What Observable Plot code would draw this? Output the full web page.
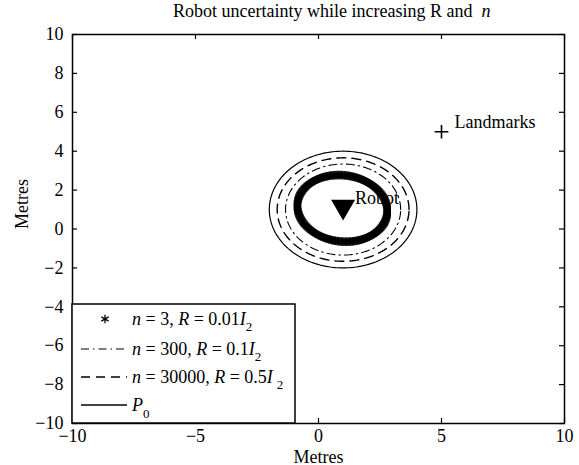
<!DOCTYPE html>
<html><head><meta charset="utf-8">
<script src="https://cdn.jsdelivr.net/npm/d3@7"></script>
<script src="https://cdn.jsdelivr.net/npm/@observablehq/plot@0.6"></script>
<style>
body{margin:0;background:#fff;}
#chart svg{display:block;}
</style></head><body><div id="chart"></div>
<script>
// ---- data ----
const titleText = "Robot uncertainty while increasing R and ";
const titleItalic = "n";
const xLabel = "Metres";
const yLabel = "Metres";
const xTicks = [-10, -5, 0, 5, 10];
const yTicks = [-10, -8, -6, -4, -2, 0, 2, 4, 6, 8, 10];
const robotX = [1], robotY = [1], robotLabel = ["Robot"];
const landmarkX = [5], landmarkY = [5], landmarkLabel = ["Landmarks"];
// uncertainty ellipses (centre, semi-axes, tilt in degrees)
const ellipseSeries = ["n3", "n300", "n30000", "P0"];
const ellipseCx = [0.97, 1, 1, 1];
const ellipseCy = [1.06, 1, 1, 1];
const ellipseRx = [1.86, 2.34, 2.68, 3.0];
const ellipseRy = [1.68, 2.34, 2.66, 3.0];
const ellipseTilt = [-25, 0, 0, 0];
// legend texts
const legendN = ["3", "300", "30000"];
const legendR = ["0.01", "0.1", "0.5"];

// ---- build ellipse outlines ----
const ellipsePts = [];
ellipseSeries.forEach((s, i) => {
  const t = ellipseTilt[i] * Math.PI / 180;
  const step = s === "n3" ? 1 : 2;
  for (let a = 0; a <= 360; a += step) {
    const u = a * Math.PI / 180;
    const ex = ellipseRx[i] * Math.cos(u), ey = ellipseRy[i] * Math.sin(u);
    ellipsePts.push({series: s, x: ellipseCx[i] + ex * Math.cos(t) - ey * Math.sin(t), y: ellipseCy[i] + ex * Math.sin(t) + ey * Math.cos(t)});
  }
});
const ser = s => ellipsePts.filter(d => d.series === s);

const W = 579, H = 465, mL = 72, mR = 15, mT = 34, mB = 42;
const innerW = W - mL - mR, innerH = H - mT - mB;
const FONT = "'Liberation Serif', 'Times New Roman', serif";

function overlay(index, scales, values, dims) {
  const g = d3.create("svg:g").attr("font-family", FONT).attr("fill", "black").attr("text-anchor", "start");
  // title
  const tt = g.append("text").attr("x", 173).attr("y", 17).attr("font-size", 18);
  tt.append("tspan").text(titleText + "\u00a0");
  tt.append("tspan").attr("font-style", "italic").text(titleItalic);
  // legend box
  const bx = dims.marginLeft, by = dims.height - dims.marginBottom - 119;
  g.append("rect").attr("x", bx).attr("y", by).attr("width", 223).attr("height", 119)
    .attr("fill", "white").attr("stroke", "black").attr("stroke-width", 1.5);
  const rows = [15, 45, 73, 101];
  const lx1 = bx + 9, lx2 = bx + 55, tx = bx + 60;
  // row 1: asterisk marker
  g.append("path").attr("d", d3.symbol(d3.symbolAsterisk, Math.PI * 16)())
    .attr("transform", `translate(${bx + 33},${by + rows[0]})`).attr("stroke", "black").attr("stroke-width", 1.3).attr("fill", "none");
  g.append("line").attr("x1", lx1).attr("x2", lx2).attr("y1", by + rows[1]).attr("y2", by + rows[1])
    .attr("stroke", "black").attr("stroke-width", 1.1).attr("stroke-dasharray", "8,4,1.5,4");
  g.append("line").attr("x1", lx1).attr("x2", lx2).attr("y1", by + rows[2]).attr("y2", by + rows[2])
    .attr("stroke", "black").attr("stroke-width", 1.4).attr("stroke-dasharray", "9,6");
  g.append("line").attr("x1", lx1).attr("x2", lx2).attr("y1", by + rows[3]).attr("y2", by + rows[3])
    .attr("stroke", "black").attr("stroke-width", 1.4);
  for (let i = 0; i < 3; i++) {
    const t = g.append("text").attr("x", tx).attr("y", by + rows[i] + 6).attr("font-size", 18);
    t.append("tspan").attr("font-style", "italic").text("n");
    t.append("tspan").text(` = ${legendN[i]}, `);
    t.append("tspan").attr("font-style", "italic").text("R");
    t.append("tspan").text(` = ${legendR[i]}`);
    t.append("tspan").attr("font-style", "italic").text("I");
    t.append("tspan").attr("dy", 6).attr("dx", i === 2 ? 4 : 0).attr("font-size", 13).text("2");
  }
  const p = g.append("text").attr("x", tx).attr("y", by + rows[3] + 6).attr("font-size", 18);
  p.append("tspan").attr("font-style", "italic").text("P");
  p.append("tspan").attr("dy", 7).attr("font-size", 13).text("0");
  return g.node();
}

const chart = Plot.plot({
  width: W, height: H,
  marginLeft: mL, marginRight: mR, marginTop: mT, marginBottom: mB,
  style: {fontFamily: FONT, fontSize: "18px", background: "white", color: "black"},
  x: {domain: [-10, 10]},
  y: {domain: [-10, 10]},
  marks: [
    Plot.line(ser("P0"), {x: "x", y: "y", stroke: "black", strokeWidth: 1.2}),
    Plot.line(ser("n30000"), {x: "x", y: "y", stroke: "black", strokeWidth: 1.4, strokeDasharray: "9,6"}),
    Plot.line(ser("n300"), {x: "x", y: "y", stroke: "black", strokeWidth: 1.1, strokeDasharray: "8,4,1.5,4"}),
    Plot.dot(ser("n3"), {x: "x", y: "y", symbol: "asterisk", r: 4, stroke: "black", strokeWidth: 1}),
    Plot.dot({length: 1}, {x: robotX, y: robotY, symbol: "triangle", rotate: 180, r: 8.9, fill: "black", stroke: "none", dy: -3}),
    Plot.text({length: 1}, {x: robotX, y: robotY, text: robotLabel, dx: 12, dy: -11, textAnchor: "start", fontSize: 18}),
    Plot.dot({length: 1}, {x: landmarkX, y: landmarkY, symbol: "plus", r: 4.5, stroke: "black", strokeWidth: 1.6}),
    Plot.text({length: 1}, {x: landmarkX, y: landmarkY, text: landmarkLabel, dx: 13, dy: -10, textAnchor: "start", fontSize: 18}),
    // inward ticks on all four sides
    Plot.ruleX(xTicks, {x: d => d, insetTop: innerH - 5, stroke: "black", strokeWidth: 1.2}),
    Plot.ruleX(xTicks, {x: d => d, insetBottom: innerH - 5, stroke: "black", strokeWidth: 1.2}),
    Plot.ruleY(yTicks, {y: d => d, insetRight: innerW - 5, stroke: "black", strokeWidth: 1.2}),
    Plot.ruleY(yTicks, {y: d => d, insetLeft: innerW - 5, stroke: "black", strokeWidth: 1.2}),
    Plot.axisX(xTicks, {anchor: "bottom", tickSize: 0, tickPadding: 6, label: null, fontSize: 18}),
    Plot.axisY(yTicks, {anchor: "left", tickSize: 0, tickPadding: 9, label: null, fontSize: 18}),
    Plot.text([xLabel], {frameAnchor: "bottom", dy: 39, lineAnchor: "bottom", fontSize: 18}),
    Plot.text([yLabel], {frameAnchor: "left", dx: -50, rotate: -90, fontSize: 18}),
    Plot.frame({stroke: "black", strokeWidth: 1.5}),
    overlay
  ]
});
document.getElementById("chart").appendChild(chart);
</script></body></html>
